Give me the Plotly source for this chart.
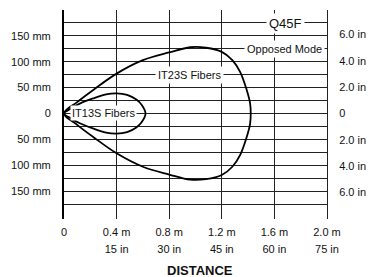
import plotly.graph_objects as go

# ---- data (distance in m, half-width in mm; beams are symmetric about 0) ----
it23s_x = [0, 0.10, 0.22, 0.40, 0.60, 0.80, 0.96, 1.08, 1.20, 1.28, 1.34, 1.39, 1.415, 1.42]
it23s_y = [0, 22, 45, 77, 103, 118, 128, 127, 119, 103, 80, 45, 20, 0]
it13s_x = [0, 0.05, 0.12, 0.22, 0.32, 0.40, 0.48, 0.55, 0.59, 0.62]
it13s_y = [0, 9, 19, 29, 37, 39, 36, 27, 17, 0]

x_ticks = [0, 0.4, 0.8, 1.2, 1.6, 2.0]
x_labels_m = ["0", "0.4 m", "0.8 m", "1.2 m", "1.6 m", "2.0 m"]
x_labels_in = ["", "15 in", "30 in", "45 in", "60 in", "75 in"]

y_grid_mm = [-175, -150, -125, -100, -75, -50, -25, 0, 25, 50, 75, 100, 125, 150, 175]
y_labels_mm = ["", "150 mm", "", "100 mm", "", "50 mm", "", "0", "", "50 mm", "", "100 mm", "", "150 mm", ""]
y_ticks_in = [-6, -4, -2, 0, 2, 4, 6]
y_labels_in = ["6.0 in", "4.0 in", "2.0 in", "0", "2.0 in", "4.0 in", "6.0 in"]

Y_RANGE = [-204, 200]
FONT = "Liberation Sans, Arial, sans-serif"


def closed(xs, ys):
    cx = list(xs) + list(reversed(xs[:-1]))
    cy = list(ys) + [-v for v in reversed(ys[:-1])]
    return cx, cy


fig = go.Figure()
for xs, ys in [(it23s_x, it23s_y), (it13s_x, it13s_y)]:
    cx, cy = closed(xs, ys)
    fig.add_trace(go.Scatter(x=cx, y=cy, mode="lines",
                             line=dict(color="black", width=1.8, shape="spline", smoothing=1.0),
                             hoverinfo="skip", showlegend=False))

# invisible trace to carry secondary axes
fig.add_trace(go.Scatter(x=[0], y=[0], xaxis="x2", yaxis="y2", mode="markers",
                         marker=dict(opacity=0), hoverinfo="skip", showlegend=False))

tickfont = dict(family=FONT, size=11, color="#111")

fig.update_layout(
    width=369, height=277,
    margin=dict(l=64, r=42, t=10, b=58),
    paper_bgcolor="white", plot_bgcolor="white",
    xaxis=dict(range=[0, 2.0], tickvals=x_ticks, ticktext=x_labels_m, showgrid=True,
               gridcolor="#222", gridwidth=1, zeroline=False, showline=False,
               ticks="", tickfont=tickfont, ticklabelstandoff=5, automargin=False),
    xaxis2=dict(range=[0, 2.0], overlaying="x", side="bottom", anchor="y",
                tickvals=x_ticks, ticktext=x_labels_in, showgrid=False, zeroline=False,
                showline=False, ticks="", tickfont=tickfont, ticklabelstandoff=22,
                automargin=False),
    yaxis=dict(range=Y_RANGE, tickvals=y_grid_mm, ticktext=y_labels_mm, showgrid=True,
               gridcolor="#222", gridwidth=1, zeroline=False, showline=True,
               linecolor="black", linewidth=2, ticks="", tickfont=tickfont,
               ticklabelstandoff=9, automargin=False),
    yaxis2=dict(range=[Y_RANGE[0] / 25.4, Y_RANGE[1] / 25.4], overlaying="y", side="right",
                anchor="x", tickvals=y_ticks_in, ticktext=y_labels_in, showgrid=False,
                zeroline=False, showline=True, linecolor="#222", linewidth=1, ticks="",
                tickfont=tickfont, ticklabelstandoff=9, automargin=False),
)

ann_font = dict(family=FONT, size=11, color="#111")
fig.add_annotation(x=0.304, y=0, text="IT13S Fibers", showarrow=False, font=ann_font,
                   bgcolor="white", borderpad=1)
fig.add_annotation(x=0.958, y=75, text="IT23S Fibers", showarrow=False, font=ann_font,
                   bgcolor="white", borderpad=2)
fig.add_annotation(x=1.677, y=125, text="Opposed Mode", showarrow=False, font=ann_font,
                   bgcolor="white", borderpad=2)
fig.add_annotation(x=1.688, y=173, text="Q45F", showarrow=False,
                   font=dict(family=FONT, size=13, color="#111"), bgcolor="white", borderpad=2)
fig.add_annotation(xref="paper", yref="paper", x=(200 - 64) / 263, y=0, yshift=-51,
                   text="<b>DISTANCE</b>", showarrow=False,
                   font=dict(family=FONT, size=13, color="#111"), yanchor="middle")

fig.write_html("out.html", config={"displayModeBar": False, "staticPlot": True},
               post_script="document.body.style.margin='0';document.body.style.overflow='hidden';")
